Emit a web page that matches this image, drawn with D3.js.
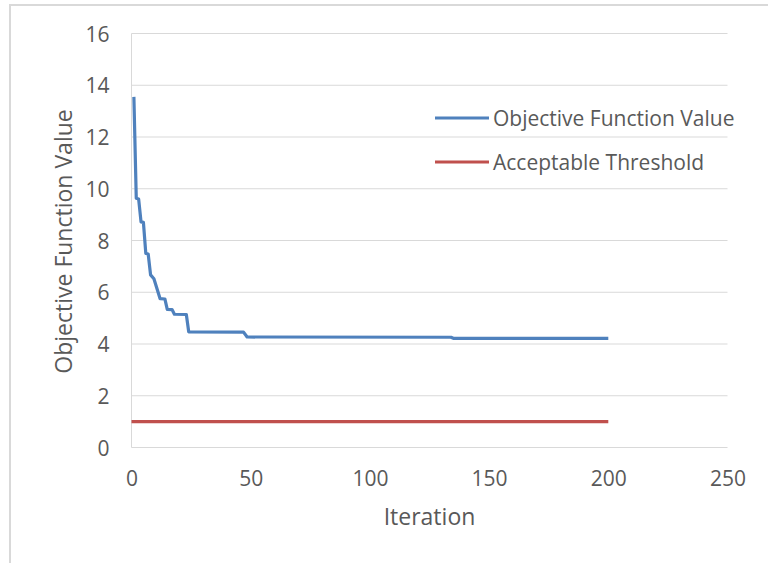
<!DOCTYPE html>
<html>
<head>
<meta charset="utf-8">
<script src="https://cdn.jsdelivr.net/npm/d3@7"></script>
<style>
  html, body { margin: 0; padding: 0; background: #fff; }
  svg { display: block; }
  text { font-family: "Open Sans", "Noto Sans", sans-serif; fill: #595959; }
</style>
</head>
<body>
<svg id="chart" width="768" height="563"></svg>
<script>
// ---- data ----
const seriesNames = ["Objective Function Value", "Acceptable Threshold"];
const objIter = [1, 2, 3, 4, 5, 6, 7, 8, 9.4, 12, 14, 15, 17, 18, 23, 24, 47, 48.5, 134, 135, 200];
const objVal  = [13.55, 9.63, 9.6, 8.72, 8.7, 7.5, 7.48, 6.67, 6.52, 5.75, 5.74, 5.34, 5.33, 5.15, 5.14, 4.47, 4.46, 4.27, 4.26, 4.22, 4.22];
const thrIter = [0, 200];
const thrVal  = [1, 1];
const xTicks = [0, 50, 100, 150, 200, 250];
const yTicks = [0, 2, 4, 6, 8, 10, 12, 14, 16];
const xTitle = "Iteration";
const yTitle = "Objective Function Value";
const colors = ["#4f81bd", "#c0504d"];

const svg = d3.select("#chart");

// outer chart border
svg.append("path")
  .attr("d", "M10,563 L10,5 L768,5")
  .attr("fill", "none").attr("stroke", "#d9d9d9").attr("stroke-width", 2);

const pLeft = 131.5, pRight = 727.5, pTop = 33.5, pBottom = 447.5;
const x = d3.scaleLinear().domain([0, 250]).range([pLeft, pRight]);
const y = d3.scaleLinear().domain([0, 16]).range([pBottom, pTop]);

// gridlines
svg.append("g").selectAll("line").data(yTicks).join("line")
  .attr("x1", pLeft).attr("x2", pRight)
  .attr("y1", d => y(d)).attr("y2", d => y(d))
  .attr("stroke", "#d9d9d9").attr("stroke-width", 1);
// left axis line
svg.append("line").attr("x1", pLeft).attr("x2", pLeft).attr("y1", pTop).attr("y2", pBottom)
  .attr("stroke", "#d9d9d9").attr("stroke-width", 1);

// y axis
const yAxis = d3.axisLeft(y).tickValues(yTicks).tickSize(0).tickPadding(22);
const gy = svg.append("g").attr("transform", `translate(${pLeft},0)`).call(yAxis);
gy.select(".domain").remove();
gy.selectAll("text").style("font-size", "21px").attr("fill", "#595959").attr("dy", "0.36em");

// x axis
const xAxis = d3.axisBottom(x).tickValues(xTicks).tickSize(0).tickPadding(30.5);
const gx = svg.append("g").attr("transform", `translate(0,${pBottom})`).call(xAxis);
gx.select(".domain").remove();
gx.selectAll("text").style("font-size", "21px").attr("fill", "#595959").attr("dy", "0.36em");

// axis titles
svg.append("text").attr("x", x(125)).attr("y", 517).attr("dy", "0.36em").attr("text-anchor", "middle")
  .style("font-size", "23px").text(xTitle);
svg.append("text").attr("transform", `translate(63.5,${(pTop + pBottom) / 2 + 1}) rotate(-90)`)
  .attr("dy", "0.36em").attr("text-anchor", "middle").style("font-size", "23px").text(yTitle);

// lines
const line = d3.line().x(d => x(d[0])).y(d => y(d[1]));
const objData = objIter.map((it, i) => [it, objVal[i]]);
const thrData = thrIter.map((it, i) => [it, thrVal[i]]);
svg.append("path").datum(thrData).attr("d", line)
  .attr("fill", "none").attr("stroke", colors[1]).attr("stroke-width", 3.2);
svg.append("path").datum(objData).attr("d", line)
  .attr("fill", "none").attr("stroke", colors[0]).attr("stroke-width", 3.2)
  .attr("stroke-linejoin", "round");

// legend
const legY = [118, 162];
const lg = svg.append("g");
seriesNames.forEach((name, i) => {
  lg.append("line").attr("x1", 435).attr("x2", 489).attr("y1", legY[i]).attr("y2", legY[i])
    .attr("stroke", colors[i]).attr("stroke-width", 3.2);
  lg.append("text").attr("x", 493).attr("y", legY[i]).attr("dy", "0.36em")
    .style("font-size", "21px").text(name);
});
</script>
</body>
</html>
